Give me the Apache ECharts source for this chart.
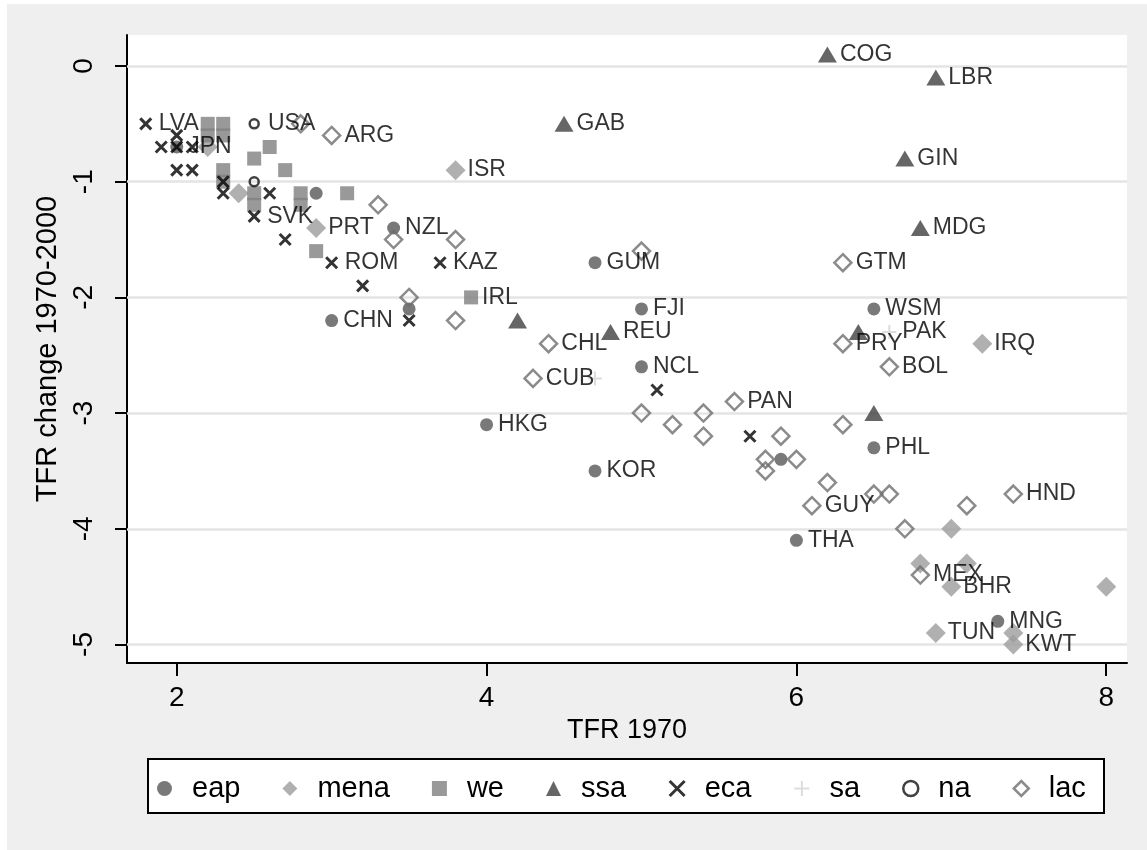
<!DOCTYPE html>
<html>
<head>
<meta charset="utf-8">
<script src="https://cdn.jsdelivr.net/npm/echarts@6/dist/echarts.min.js"></script>
<style>
html,body{margin:0;padding:0;background:#fff;}
#chart{width:1147px;height:850px;}
</style>
</head>
<body>
<div id="chart"></div>
<script>
// ---------------- DATA ----------------
const groups = ['eap', 'mena', 'we', 'ssa', 'eca', 'sa', 'na', 'lac'];

// [TFR 1970, TFR change 1970-2000, label]
const eap = [
  [2.0, -0.7, 'JPN'], [2.9, -1.1, ''], [3.4, -1.4, 'NZL'], [3.5, -2.1, ''],
  [3.0, -2.2, 'CHN'], [4.7, -1.7, 'GUM'], [5.0, -2.1, 'FJI'], [5.0, -2.6, 'NCL'],
  [4.0, -3.1, 'HKG'], [4.7, -3.5, 'KOR'], [6.5, -2.1, 'WSM'], [6.5, -3.3, 'PHL'],
  [5.9, -3.4, ''], [6.0, -4.1, 'THA'], [7.3, -4.8, 'MNG']
];
const mena = [
  [2.2, -0.7, ''], [2.4, -1.1, ''], [2.9, -1.4, 'PRT'], [3.8, -0.9, 'ISR'],
  [7.2, -2.4, 'IRQ'], [7.0, -4.0, ''], [6.8, -4.3, ''], [7.1, -4.3, ''],
  [7.0, -4.5, 'BHR'], [8.0, -4.5, ''], [6.9, -4.9, 'TUN'], [7.4, -4.9, ''],
  [7.4, -5.0, 'KWT']
];
const we = [
  [2.2, -0.5, ''], [2.3, -0.5, ''], [2.2, -0.6, ''], [2.3, -0.6, ''],
  [2.5, -0.8, ''], [2.6, -0.7, ''], [2.7, -0.9, ''], [2.3, -0.9, ''],
  [2.3, -1.0, ''], [2.5, -1.1, ''], [2.5, -1.2, ''], [2.8, -1.1, ''],
  [2.8, -1.2, ''], [3.1, -1.1, ''], [2.9, -1.6, ''], [3.9, -2.0, 'IRL']
];
const ssa = [
  [6.2, 0.1, 'COG'], [6.9, -0.1, 'LBR'], [4.5, -0.5, 'GAB'], [6.7, -0.8, 'GIN'],
  [6.8, -1.4, 'MDG'], [4.2, -2.2, ''], [4.8, -2.3, 'REU'], [6.4, -2.3, ''],
  [6.5, -3.0, '']
];
const eca = [
  [1.8, -0.5, 'LVA'], [2.0, -0.6, ''], [1.9, -0.7, ''], [2.0, -0.7, ''],
  [2.1, -0.7, ''], [2.0, -0.9, ''], [2.1, -0.9, ''], [2.3, -1.0, ''],
  [2.3, -1.1, ''], [2.6, -1.1, ''], [2.5, -1.3, 'SVK'], [2.7, -1.5, ''],
  [3.0, -1.7, 'ROM'], [3.2, -1.9, ''], [3.7, -1.7, 'KAZ'], [3.5, -2.2, ''],
  [5.1, -2.8, ''], [5.7, -3.2, '']
];
const sa = [
  [4.7, -2.7, ''], [6.6, -2.3, 'PAK']
];
const na = [
  [2.5, -0.5, 'USA'], [2.5, -1.0, '']
];
const lac = [
  [2.8, -0.5, ''], [3.0, -0.6, 'ARG'], [3.3, -1.2, ''], [3.4, -1.5, ''],
  [3.8, -1.5, ''], [3.5, -2.0, ''], [3.8, -2.2, ''], [4.4, -2.4, 'CHL'],
  [4.3, -2.7, 'CUB'], [5.0, -1.6, ''], [5.0, -3.0, ''], [5.2, -3.1, ''],
  [5.4, -3.0, ''], [5.4, -3.2, ''], [5.6, -2.9, 'PAN'], [5.9, -3.2, ''],
  [5.8, -3.4, ''], [6.0, -3.4, ''], [5.8, -3.5, ''], [6.3, -1.7, 'GTM'],
  [6.3, -2.4, 'PRY'], [6.6, -2.6, 'BOL'], [6.3, -3.1, ''], [6.2, -3.6, ''],
  [6.1, -3.8, 'GUY'], [6.5, -3.7, ''], [6.6, -3.7, ''], [7.4, -3.7, 'HND'],
  [7.1, -3.8, ''], [6.7, -4.0, ''], [6.8, -4.4, 'MEX']
];

const xTicks = [2, 4, 6, 8];
const yTicks = [0, -1, -2, -3, -4, -5];
const xTitle = 'TFR 1970';
const yTitle = 'TFR change 1970-2000';

// ---------------- STYLE ----------------
const FONT = "'Liberation Sans', Arial, sans-serif";
const groupData = { eap, mena, we, ssa, eca, sa, na, lac };
const styles = {
  eap:  { symbol: 'circle',   size: 13, fill: '#575757', dist: 5 },
  mena: { symbol: 'diamond',  size: 20, fill: '#9c9c9c', dist: 2 },
  we:   { symbol: 'rect',     size: 14, fill: '#808080', dist: 4 },
  ssa:  { symbol: 'triangle', size: [19, 16], fill: '#404040', dist: 3 },
  eca:  { symbol: 'path://M0,0L10,10M0,10L10,0', size: 11, stroke: '#000', lw: 3, dist: 6 },
  sa:   { symbol: 'path://M5,0L5,10M0,5L10,5', size: 14, stroke: '#d4d4d4', lw: 2, dist: 5 },
  na:   { symbol: 'circle',   size: 9, stroke: '#111', lw: 2.5, dist: 8 },
  lac:  { symbol: 'diamond',  size: 17, stroke: '#6e6e6e', lw: 2.5, dist: 3 }
};

const series = groups.map((g, i) => {
  const s = styles[g];
  const itemStyle = s.fill
    ? { color: s.fill, borderWidth: 0 }
    : { color: 'rgba(0,0,0,0)', borderColor: s.stroke, borderWidth: s.lw };
  const obj = {
    name: g,
    type: 'scatter',
    symbol: s.symbol,
    symbolSize: s.size,
    itemStyle: itemStyle,
    data: groupData[g].map(d => ({ value: [d[0], d[1]], name: d[2] })),
    label: {
      show: true, position: 'right', distance: s.dist, formatter: '{b}',
      color: '#000', fontSize: 23, fontFamily: FONT
    },
    emphasis: { disabled: true },
    animation: false,
    z: 2
  };
  if (i === 0) {
    obj.markLine = {
      silent: true, symbol: 'none', z: 1, animation: false,
      label: { show: false },
      lineStyle: { color: '#e4e4e4', width: 2.5, type: 'solid' },
      emphasis: { disabled: true },
      data: yTicks.map(v => ({ yAxis: v }))
    };
  }
  return obj;
});

const legendData = groups.map(g => {
  const s = styles[g];
  return {
    name: g,
    itemStyle: s.fill
      ? { color: s.fill, borderWidth: 0 }
      : { color: 'rgba(0,0,0,0)', borderColor: s.stroke, borderWidth: s.lw }
  };
});

const chart = echarts.init(document.getElementById('chart'), null, { renderer: 'canvas' });
chart.setOption({
  backgroundColor: '#efefef',
  animation: false,
  textStyle: { fontFamily: FONT },
  grid: { left: 127, right: 20, top: 35, bottom: 187, show: true, backgroundColor: '#fff', borderWidth: 0, containLabel: false },
  xAxis: {
    type: 'value', min: 1.679, max: 8.134,
    axisLine: { show: true, onZero: false, lineStyle: { color: '#000', width: 2 } },
    axisTick: { show: true, length: 13, lineStyle: { color: '#000', width: 2 }, customValues: xTicks },
    axisLabel: { customValues: xTicks, fontSize: 28, color: '#000', margin: 21, fontFamily: FONT },
    splitLine: { show: false },
    name: xTitle, nameLocation: 'middle', nameGap: 51,
    nameTextStyle: { fontSize: 27, color: '#000', fontFamily: FONT }
  },
  yAxis: {
    type: 'value', min: -5.16, max: 0.268,
    axisLine: { show: true, onZero: false, lineStyle: { color: '#000', width: 2 } },
    axisTick: { show: true, length: 12, lineStyle: { color: '#000', width: 2 }, customValues: yTicks },
    axisLabel: { customValues: yTicks, fontSize: 28, color: '#000', margin: 29, rotate: 90, fontFamily: FONT },
    splitLine: { show: false },
    name: yTitle, nameLocation: 'middle', nameGap: 57,
    nameTextStyle: { fontSize: 29, color: '#000', fontFamily: FONT }
  },
  legend: {
    left: 157, top: 774, padding: 0, orient: 'horizontal',
    itemWidth: 15, itemHeight: 15, itemGap: 42, selectedMode: false,
    data: legendData,
    textStyle: { fontSize: 29, color: '#000', fontFamily: FONT, padding: [0, 0, 0, 15] }
  },
  graphic: [
    { type: 'rect', silent: true, z: 0, shape: { x: 0, y: 0, width: 7, height: 850 }, style: { fill: '#fff' } },
    { type: 'rect', silent: true, z: 0, shape: { x: 0, y: 0, width: 1147, height: 4 }, style: { fill: '#fff' } },
    { type: 'rect', silent: true, z: 1, shape: { x: 148, y: 759, width: 956, height: 54 }, style: { fill: '#fff', stroke: '#000', lineWidth: 2 } }
  ],
  series: series
});
</script>
</body>
</html>
